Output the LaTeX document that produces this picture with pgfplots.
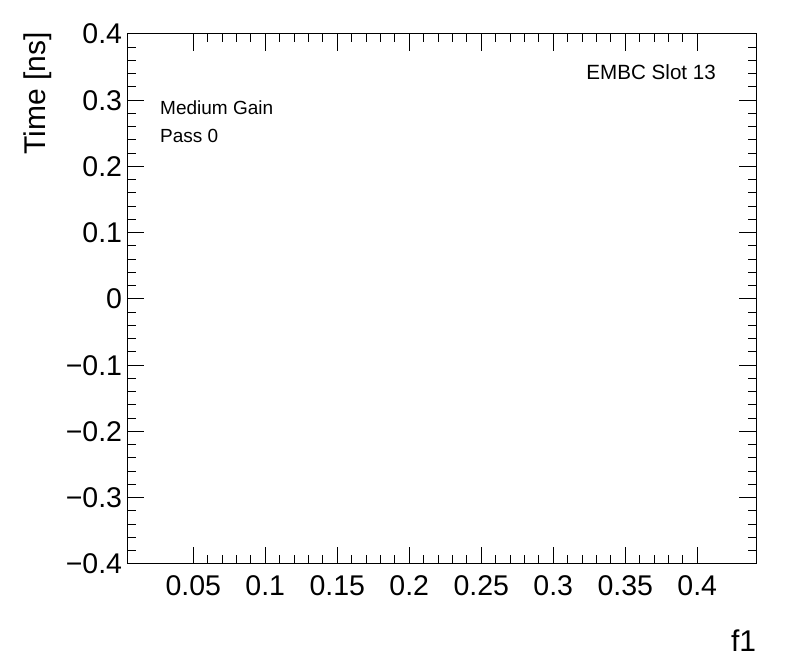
\documentclass[border=0pt]{standalone}
\usepackage{fontspec}
\setmainfont{Liberation Sans}
\usepackage{pgfplots}
\pgfplotsset{compat=1.18}
\begin{document}
\begin{tikzpicture}[x=1bp,y=1bp]
\useasboundingbox (-127.3,-108) rectangle (668.7,564);
\begin{axis}[
  at={(0,0)}, anchor=south west,
  scale only axis, width=629bp, height=530bp,
  xmin=0.0042, xmax=0.441, ymin=-0.4, ymax=0.4,
  xtick={0.05,0.1,0.15,0.2,0.25,0.3,0.35,0.4},
  xticklabels={0.05,0.1,0.15,0.2,0.25,0.3,0.35,0.4},
  ytick={-0.4,-0.3,-0.2,-0.1,0,0.1,0.2,0.3,0.4},
  yticklabels={−0.4,−0.3,−0.2,−0.1,0,0.1,0.2,0.3,0.4},
  minor x tick num=4, minor y tick num=4,
  tick align=inside, tick pos=both,
  major tick length=17bp, minor tick length=8.5bp,
  tick style={black, line width=1bp},
  axis line style={line width=1bp},
  ticklabel style={font=\fontsize{28.5bp}{33bp}\selectfont},
  xticklabel style={anchor=north, inner sep=0pt, yshift=-11bp},
  yticklabel style={anchor=east, inner sep=0pt, xshift=-5bp},
  xlabel={f1},
  xlabel style={at={(axis description cs:1,-0.166)}, anchor=base east, inner sep=0pt, font=\fontsize{30bp}{35bp}\selectfont},
  ylabel={Time [ns]},
  ylabel style={at={(axis description cs:-0.1304,1.004)}, anchor=base east, inner sep=0pt, font=\fontsize{30bp}{35bp}\selectfont},
]
\addplot[draw=none, forget plot] coordinates {(0.2,0)};
\node[anchor=base west, inner sep=0pt, font=\fontsize{19bp}{23bp}\selectfont] at (rel axis cs:0.052,0.849) {Medium Gain};
\node[anchor=base west, inner sep=0pt, font=\fontsize{19bp}{23bp}\selectfont] at (rel axis cs:0.052,0.796) {Pass 0};
\node[anchor=base east, inner sep=0pt, font=\fontsize{20.6bp}{24bp}\selectfont] at (rel axis cs:0.936,0.915) {EMBC Slot 13};
\end{axis}
\end{tikzpicture}
\end{document}
